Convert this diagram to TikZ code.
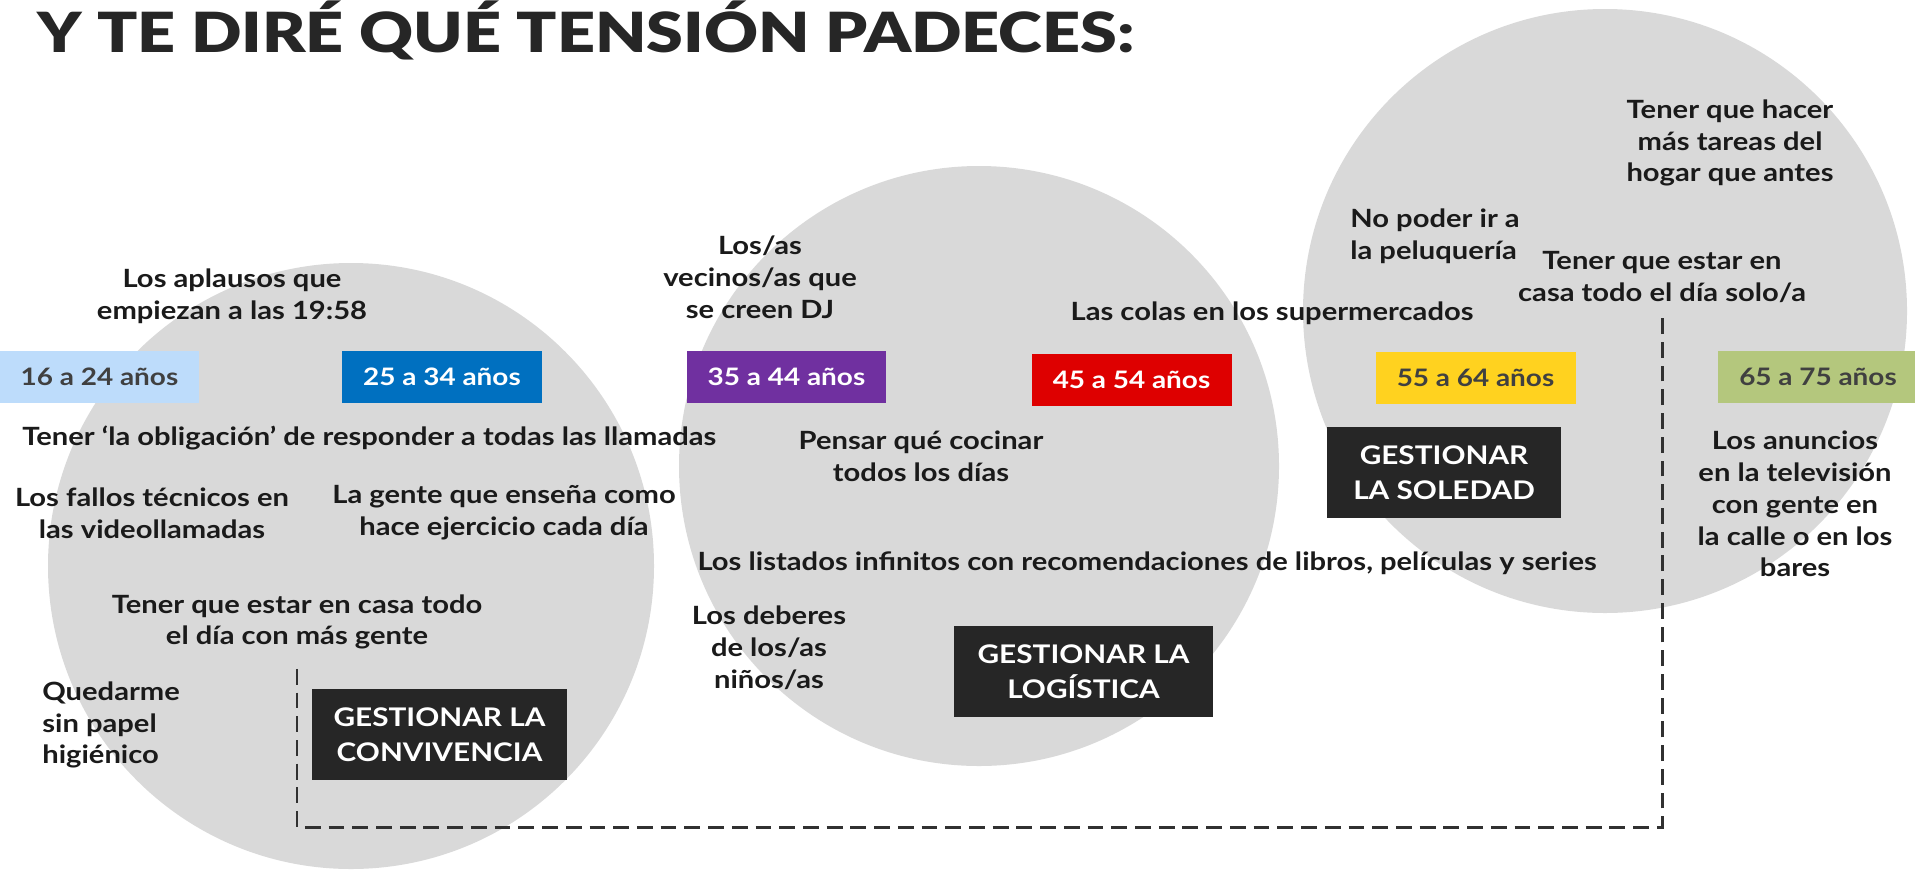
\documentclass[tikz,border=0pt]{standalone}
\usepackage{fontspec}
\setmainfont{Lato}[FakeStretch=1.16]
\newfontfamily\titlefont{Lato Black}[FakeStretch=1.2]

\definecolor{bubble}{HTML}{D9D9D9}
\definecolor{ink}{HTML}{1A1A1A}
\definecolor{soft}{HTML}{404040}
\definecolor{darkbox}{HTML}{262626}
\definecolor{ageA}{HTML}{BDDCFB}
\definecolor{ageB}{HTML}{0070C0}
\definecolor{ageC}{HTML}{7030A0}
\definecolor{ageD}{HTML}{DE0000}
\definecolor{ageE}{HTML}{FFD21F}
\definecolor{ageF}{HTML}{B4C77D}

\tikzset{
  note/.style={align=center, text=ink, inner sep=0pt,
    font=\bfseries\fontsize{14.3}{18.1}\selectfont},
  agebox/.style={minimum width=4cm, minimum height=1.04cm, inner sep=0pt,
    font=\bfseries\fontsize{13.7}{17}\selectfont},
  tensionbox/.style={fill=darkbox, text=white, minimum height=1.82cm, inner sep=0pt,
    align=center, font=\bfseries\fontsize{14.6}{19.8}\selectfont},
  link/.style={draw=ink!90, line width=1.7pt, dash pattern=on 9pt off 4.5pt}
}

\begin{document}
\begin{tikzpicture}[x=0.02cm, y=-0.02cm]
\useasboundingbox (0,0) rectangle (1915,869);
% burbujas de fondo
\fill[bubble] (351,566) circle[radius=303];
\fill[bubble] (979,466) circle[radius=300];
\fill[bubble] (1605,311) circle[radius=302];

\node[anchor=base west, inner sep=0pt, text=darkbox, font=\titlefont\fontsize{31.5}{36}\selectfont] (title) at (37,52) {Y TE DIRÉ QUÉ TENSIÓN PADECES:};

% franjas de edad
\node[agebox, fill=ageA, text=soft] (a16) at (99.5,377) {16 a 24 años};
\node[agebox, fill=ageB, text=white] (a25) at (442,377) {25 a 34 años};
\node[agebox, fill=ageC, text=white] (a35) at (786.5,377) {35 a 44 años};
\node[agebox, fill=ageD, text=white] (a45) at (1131.5,380) {45 a 54 años};
\node[agebox, fill=ageE, text=soft] (a55) at (1475.5,377.5) {55 a 64 años};
\node[agebox, fill=ageF, text=soft] (a65) at (1818,377) {65 a 75 años};

% tensiones
\node[tensionbox, minimum width=5.1cm] (convivencia) at (439.5,734.5) {GESTIONAR LA\\CONVIVENCIA};
\node[tensionbox, minimum width=5.18cm] (logistica) at (1083.5,671.5) {GESTIONAR LA\\LOGÍSTICA};
\node[tensionbox, minimum width=4.68cm] (soledad) at (1444,472.5) {GESTIONAR\\LA SOLEDAD};

% lo que molesta
\node[note] (aplausos) at (232,296) {Los aplausos que\\empiezan a las 19:58};
\node[note, anchor=west] (llamadas) at (22,438) {Tener ‘la obligación’ de responder a todas las llamadas};
\node[note] (fallos) at (152,513) {Los fallos técnicos en\\las videollamadas};
\node[note] (ejercicio) at (504,513) {La gente que enseña como\\hace ejercicio cada día};
\node[note] (casagente) at (297,622) {Tener que estar en casa todo\\el día con más gente};
\node[note, anchor=west, align=left] (papel) at (42,725) {Quedarme\\sin papel\\higiénico};
\node[note] (vecinos) at (760,277) {Los/as\\vecinos/as que\\se creen DJ};
\node[note] (colas) at (1272,313) {Las colas en los supermercados};
\node[note] (cocinar) at (921,456) {Pensar qué cocinar\\todos los días};
\node[note] (listados) at (1147,563) {Los listados infinitos con recomendaciones de libros, películas y series};
\node[note] (deberes) at (769,648) {Los deberes\\de los/as\\niños/as};
\node[note, anchor=west, align=left] (peluqueria) at (1350,236) {No poder ir a\\la peluquería};
\node[note] (tareas) at (1730,143) {Tener que hacer\\más tareas del\\hogar que antes};
\node[note] (casasolo) at (1662,277) {Tener que estar en\\casa todo el día solo/a};
\node[note] (anuncios) at (1795,504) {Los anuncios\\en la televisión\\con gente en\\la calle o en los\\bares};

% union entre las dos situaciones de casa
\coordinate (base) at (0,827);
\draw[link] ([yshift=-0.38cm]casagente.south) -- (casagente.south |- base) -- (casasolo.south |- base) -- ([yshift=-0.3cm]casasolo.south);
\end{tikzpicture}
\end{document}
